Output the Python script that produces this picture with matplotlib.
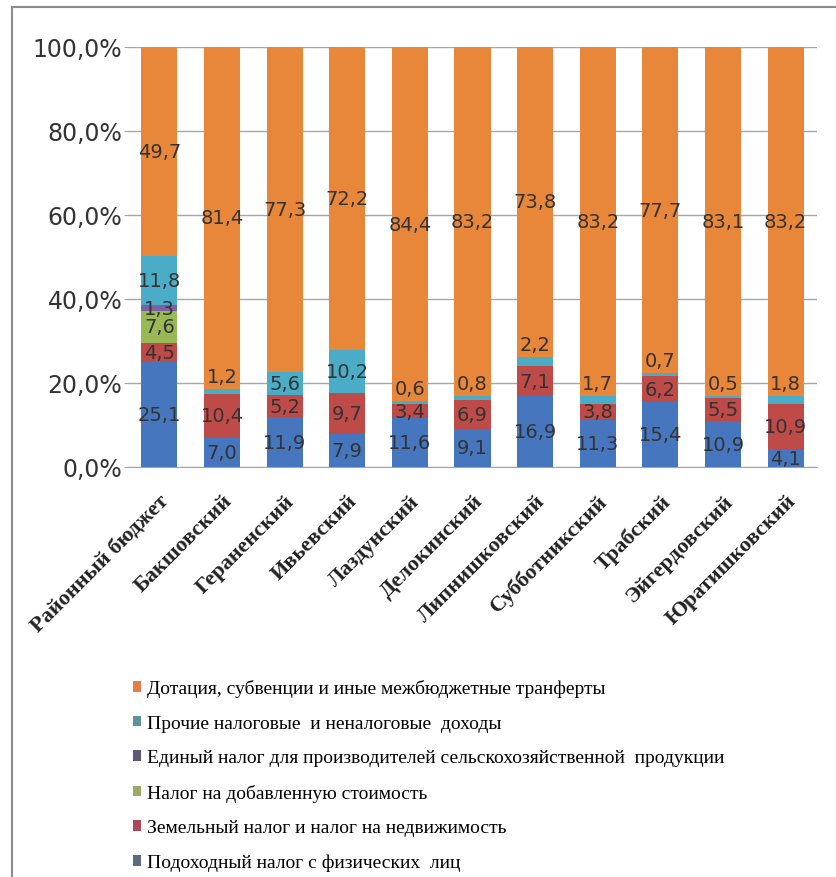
import numpy as np
import matplotlib
matplotlib.use('Agg')
import matplotlib.pyplot as plt
from matplotlib.patches import Patch
from matplotlib.lines import Line2D

districts = ['Районный бюджет', 'Бакшовский', 'Гераненский', 'Ивьевский', 'Лаздунский',
             'Делокинский', 'Липнишковский', 'Субботникский', 'Трабский', 'Эйгердовский',
             'Юратишковский']

series_names = ['Подоходный налог с физических  лиц',
                'Земельный налог и налог на недвижимость',
                'Налог на добавленную стоимость',
                'Единый налог для производителей сельскохозяйственной  продукции',
                'Прочие налоговые  и неналоговые  доходы',
                'Дотация, субвенции и иные межбюджетные транферты']

income_tax = [25.1, 7.0, 11.9, 7.9, 11.6, 9.1, 16.9, 11.3, 15.4, 10.9, 4.1]
land_tax = [4.5, 10.4, 5.2, 9.7, 3.4, 6.9, 7.1, 3.8, 6.2, 5.5, 10.9]
vat = [7.6, 0, 0, 0, 0, 0, 0, 0, 0, 0, 0]
agri_tax = [1.3, 0, 0, 0, 0, 0, 0, 0, 0, 0, 0]
other_income = [11.8, 1.2, 5.6, 10.2, 0.6, 0.8, 2.2, 1.7, 0.7, 0.5, 1.8]
transfers = [49.7, 81.4, 77.3, 72.2, 84.4, 83.2, 73.8, 83.2, 77.7, 83.1, 83.2]

series = [income_tax, land_tax, vat, agri_tax, other_income, transfers]
bar_colors = ['#4677BE', '#BE4B48', '#98B954', '#7D60A0', '#4AACC6', '#E8873A']
legend_colors = ['#5A6C82', '#A84A5C', '#9AA86A', '#5E5876', '#5F9494', '#E57D48']

fig = plt.figure(figsize=(8.36, 8.78), dpi=100)
ax = fig.add_axes([128/836, 1-468/878, 689/836, 420/878])

x = np.arange(len(districts))
bottom = np.zeros(len(districts))
for vals, col in zip(series, bar_colors):
    vals = np.array(vals, dtype=float)
    ax.bar(x, vals, 0.575, bottom=bottom, color=col, zorder=3)
    for i, v in enumerate(vals):
        if v <= 0:
            continue
        lbl = ('%.1f' % v).replace('.', ',')
        if col == '#4AACC6' and v < 3:
            ax.annotate(lbl, (x[i], bottom[i] + v), xytext=(0, 9), textcoords='offset points',
                        ha='center', va='center', fontsize=14, color='#333333', zorder=5)
        else:
            ax.text(x[i], bottom[i] + v/2, lbl, ha='center', va='center',
                    fontsize=14, color='#333333', zorder=5)
    bottom += vals

ax.set_xlim(-0.5, len(districts) - 0.5)
ax.set_ylim(0, 100)
ax.set_yticks(np.arange(0, 101, 20))
ax.set_yticklabels([('%.1f%%' % t).replace('.', ',') for t in np.arange(0, 101, 20)],
                   fontsize=17, color='#333333')
ax.yaxis.grid(True, color='#A6A6A6', linewidth=1, zorder=0)
ax.tick_params(axis='y', length=3, color='#A6A6A6', pad=1)
ax.set_xticks(x)
ax.set_xticklabels(districts, rotation=45, ha='right', rotation_mode='anchor',
                   fontsize=16, fontweight='bold', family='Liberation Serif', color='#222222')
ax.tick_params(axis='x', length=0, pad=17)
for s in ['top', 'right', 'left']:
    ax.spines[s].set_visible(False)
ax.spines['bottom'].set_color('#A6A6A6')

handles = [Patch(facecolor=c, edgecolor='none') for c in legend_colors[::-1]]
fig.legend(handles, series_names[::-1], loc='upper left', bbox_to_anchor=(115/836, 1-663/878),
           frameon=False, ncol=1, handlelength=0.45, handleheight=0.45, handletextpad=0.3,
           labelspacing=0.9, prop={'family': 'Liberation Serif', 'size': 14})

# frame lines of the original picture
fig.add_artist(Line2D([12/836, 12/836], [0, 1-8/878], transform=fig.transFigure,
                      color='#8C8C8C', linewidth=1.5))
fig.add_artist(Line2D([12/836, 1], [1-8/878, 1-8/878], transform=fig.transFigure,
                      color='#8C8C8C', linewidth=1.5))

fig.savefig('out.png', dpi=100)
